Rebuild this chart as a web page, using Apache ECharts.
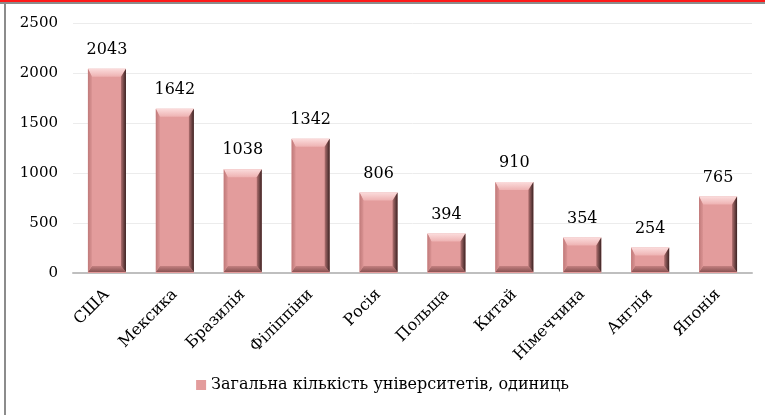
<!DOCTYPE html>
<html><head><meta charset="utf-8">
<script src="https://cdn.jsdelivr.net/npm/echarts@6/dist/echarts.min.js"></script>
<style>html,body{margin:0;padding:0;background:#fff}#c{width:765px;height:415px}</style>
</head><body><div id="c"></div>
<script>
const categories = ['США','Мексика','Бразилія','Філіппіни','Росія','Польща','Китай','Німеччина','Англія','Японія'];
const values = [2043,1642,1038,1342,806,394,910,354,254,765];
const seriesName = 'Загальна кількість університетів, одиниць';
const yTicks = [0,500,1000,1500,2000,2500];

const chart = echarts.init(document.getElementById('c'), null, {renderer:'canvas'});
const FONT = '"DejaVu Serif","Liberation Serif",serif';
const base = '#E39C9C';

function lg(x0,y0,x1,y1,c0,c1){return new echarts.graphic.LinearGradient(x0,y0,x1,y1,[{offset:0,color:c0},{offset:1,color:c1}]);}

chart.setOption({
  animation:false,
  backgroundColor:'#fff',
  graphic:[
    {type:'rect',shape:{x:0,y:0,width:765,height:2},style:{fill:'#ff1a1a'},silent:true},
    {type:'rect',shape:{x:0,y:2,width:765,height:2},style:{fill:'#8c8c8c'},silent:true},
    {type:'rect',shape:{x:4,y:2,width:2,height:413},style:{fill:'#8c8c8c'},silent:true}
  ],
  grid:{left:73,right:13,top:23,bottom:142,containLabel:false},
  legend:{
    data:[seriesName],bottom:17,left:'center',itemWidth:10,itemHeight:10,itemGap:6,
    icon:'rect',
    textStyle:{fontFamily:FONT,fontSize:16,color:'#000'}
  },
  xAxis:{
    type:'category',data:categories,
    axisLine:{lineStyle:{color:'#bfbfbf',width:2}},
    axisTick:{show:false},
    axisLabel:{rotate:45,fontFamily:FONT,fontSize:16,color:'#000',margin:19,interval:0}
  },
  yAxis:{
    type:'value',min:0,max:2500,interval:500,
    axisLine:{show:false},axisTick:{show:false},
    splitLine:{lineStyle:{color:'#ececec',width:1}},
    axisLabel:{fontFamily:FONT,fontSize:15,color:'#000',margin:15,
      formatter:v=>yTicks.includes(v)?String(v):''}
  },
  series:[
    {
      name:seriesName,type:'bar',data:values,barWidth:'56%',
      itemStyle:{color:base},
      label:{show:true,position:'top',distance:11,fontFamily:FONT,fontSize:16,color:'#000'},
      z:2
    },
    {
      name:'bevel',type:'custom',data:values.map((v,i)=>[i,v]),z:3,silent:true,
      renderItem:function(params,api){
        const top=api.coord([api.value(0),api.value(1)]);
        const bot=api.coord([api.value(0),0]);
        const bw=api.size([1,0])[0]*0.56;
        const x0=top[0]-bw/2,x1=top[0]+bw/2,yT=top[1],yB=bot[1]-1;
        const b=Math.min(8,(yB-yT)/2);
        const bb=Math.min(6,(yB-yT)/2);
        const r=5,l=4;
        return {type:'group',children:[
          {type:'polygon',shape:{points:[[x0,yT],[x1,yT],[x1-r,yT+b],[x0+l,yT+b]]},style:{fill:lg(0,0,0,1,'#fbdcdc','#eeb2b2')}},
          {type:'polygon',shape:{points:[[x0,yB],[x1,yB],[x1-r,yB-bb],[x0+l,yB-bb]]},style:{fill:lg(0,0,0,1,'#c48080','#8a5353')}},
          {type:'polygon',shape:{points:[[x0,yT],[x0+l,yT+b],[x0+l,yB-bb],[x0,yB]]},style:{fill:lg(0,0,1,0,'#c07a7a','#da9393')}},
          {type:'polygon',shape:{points:[[x1,yT],[x1,yB],[x1-r,yB-bb],[x1-r,yT+b]]},style:{fill:lg(0,0,1,0,'#b07070','#3a2222')}}
        ]};
      }
    }
  ]
});
</script></body></html>
